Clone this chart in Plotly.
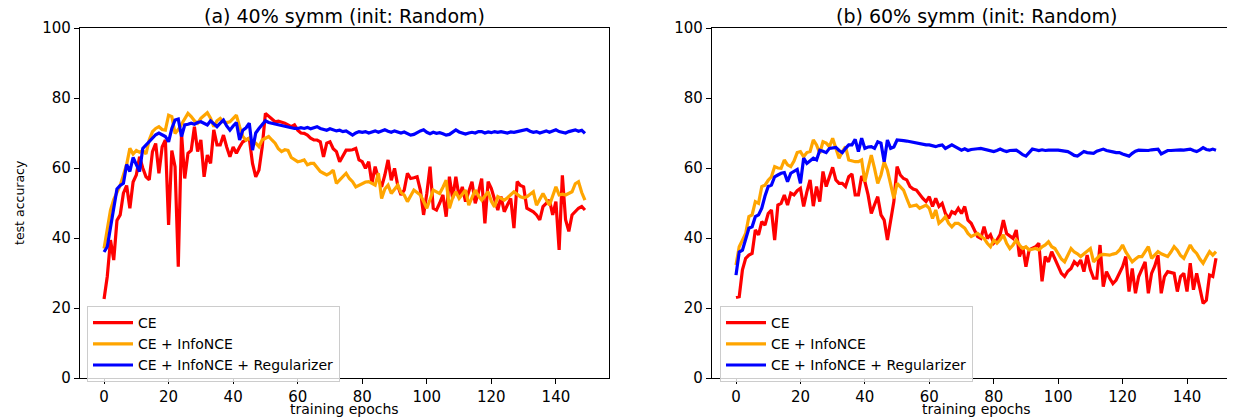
import plotly.graph_objects as go

epochs = list(range(150))

# (a) 40% symm
a_ce = [22.6, 29, 39.4, 33.7, 45, 46.6, 52.8, 55, 48.5, 56, 58, 63.2, 60, 57.5, 56.6, 64.7, 67, 58.5, 66, 68,
        43.7, 65, 60.4, 31.8, 70, 57, 64.2, 65, 71.8, 64.7, 68, 57.5, 63.7, 61.3, 70.9, 66.6, 66.6, 69.4, 66, 63.2,
        66, 64.2, 66, 67.5, 68, 68.5, 61.3, 57.5, 59.4, 66, 75.6, 74.7, 74, 73.2, 73.4, 73.2, 72.8, 72.3, 71.8, 72.3,
        70.8, 70, 69.9, 69.4, 68.5, 68, 68, 67.5, 63.2, 67.1, 67.5, 65.5, 64.7, 61.8, 63.5, 65.1, 65.1, 65.2, 65.6, 62.3,
        61.8, 59.9, 61.8, 55.6, 60.4, 57, 54.6, 58, 62.3, 56.5, 59.9, 55, 52.3, 53.7, 58.5, 57, 57.2, 57.5, 53.7, 46.6,
        52.7, 60.4, 48.5, 48, 50, 52.3, 46.1, 57.5, 51.3, 57.5, 51.8, 54.6, 50.4, 53, 56.1, 49.9, 53, 57, 44.2, 56.1,
        54.1, 51, 48, 51.8, 47.5, 49.5, 51.3, 42.8, 56.1, 55, 54.6, 48.5, 48, 47.5, 46.6, 45.2, 49, 50, 50.8, 46.6,
        50.4, 36.6, 57.9, 45.2, 41.9, 46.6, 47.5, 48.5, 49, 48]
a_info = [37, 43, 48, 51, 53, 55, 58, 61, 65.6, 64, 65, 64.5, 65, 64, 68, 70.4, 71.3, 71.8, 71, 70.8,
          75.1, 74.7, 69.9, 71, 72.5, 74, 75.6, 74.7, 73.5, 72.8, 74.2, 75, 75.8, 74.2, 71.8, 73.5, 74.2, 73.2, 73, 73.2,
          74, 75.1, 71.8, 69, 68, 68.5, 67.5, 67.1, 66.1, 68, 68.5, 69, 68, 67.1, 65.5, 64.7, 65.2, 65, 63, 62.3,
          61.8, 62, 62.3, 60.9, 61.3, 61.3, 60, 59, 58.5, 58, 58.5, 59.4, 55.6, 56.5, 57.5, 58.5, 57, 56.1, 54.6, 55,
          55.6, 56, 56.1, 55.5, 55.1, 58.5, 51.3, 54, 55.1, 52.7, 54, 55.1, 53, 52.3, 50.4, 52, 53.7, 53, 52.3, 50.5,
          48.5, 51, 53.7, 53.2, 52.7, 54.5, 56.5, 48.5, 51.5, 53.2, 51.3, 52.5, 53.7, 49.4, 51.5, 53.7, 52, 50.8, 52, 53.2,
          50.5, 48.9, 51.8, 51.3, 50.8, 51.5, 52.5, 53.2, 52.5, 51.8, 51.5, 51.8, 52.5, 53.2, 49.4, 51, 52.7, 51, 49.4, 52,
          54.6, 52.3, 52.5, 52.3, 52.8, 53.2, 55.5, 56.1, 53, 50.8]
a_reg = [36, 37.5, 43, 48, 54, 55, 55.6, 61, 59, 63, 61, 59, 65.6, 66.5, 67.5, 68.5, 69.5, 70, 69.5, 69,
         67.5, 71.3, 73.7, 74, 69, 72.3, 72.5, 72.8, 72.5, 73, 73.2, 72.8, 72.3, 73.5, 72.5, 71.8, 72.8, 73.7, 72, 70.8,
         72, 73, 68, 70.8, 71.5, 72.8, 65.1, 70, 71.3, 72.5, 73.5, 73, 72.8, 72.5, 72.3, 72, 71.8, 71.8, 71.5, 71.3,
         71.3, 71.5, 71.3, 71.6, 71.2, 71.5, 71.8, 71.3, 71, 70.8, 71.2, 71, 70.6, 70.8, 70.4, 70.6, 70, 69.4, 70, 70.4,
         70.2, 70.4, 70, 70.3, 70.6, 70.2, 70.6, 70.9, 70.5, 70.2, 70.6, 70.4, 70, 70.3, 69.8, 69.4, 69.6, 70.2, 70.6, 70.9,
         70.2, 69.8, 70.2, 69.9, 70.1, 69.8, 69.4, 69.6, 70.2, 70.9, 70.3, 69.9, 69.7, 70, 70.2, 70, 70.4, 70.4, 70, 70.3,
         70.1, 70.4, 70.2, 70.4, 70.1, 70, 70.3, 70.2, 70.4, 70.6, 70.8, 71, 70.5, 70.2, 70.4, 70, 70.3, 70.6, 70.2, 70.5,
         70.9, 70.4, 70.1, 70, 70.4, 70.6, 70.9, 70.5, 70.8, 69.9]

# (b) 60% symm
b_ce = [23, 23.2, 30.9, 34.2, 35.1, 35.6, 42.3, 40.9, 44.7, 43.7, 47, 48, 39.4, 49.4, 49.9, 52.3, 49.4, 52.8, 52.3, 53.5,
        54.2, 49, 53.2, 56.6, 49.1, 54.7, 50.4, 59, 54.7, 57.5, 60.2, 56.6, 55.6, 55.6, 54.7, 57.5, 58.3, 52.3, 52.3, 57.7,
        56.1, 52.3, 47, 49.5, 51.8, 46.6, 45.1, 39.4, 45.1, 50.4, 60.4, 58, 57, 56.6, 54.7, 54, 53.7, 52.3, 51.3, 50.4,
        51.8, 49, 51.3, 49, 49.9, 47, 45.6, 47.5, 47, 48.5, 47, 49, 45.1, 44.2, 42.3, 40.4, 39.9, 43.2, 39.9, 40.9,
        38.5, 39.4, 41, 45.1, 41.3, 40.5, 39.9, 42.3, 34.7, 37.5, 31.8, 36.6, 37, 37.5, 38.5, 27.6, 34.7, 33.2, 36.1, 34,
        32.3, 29.9, 29, 30.5, 31.3, 33.2, 32.3, 33.7, 30.4, 35.1, 31, 28.5, 28.5, 38, 26.1, 30.4, 28.5, 27, 28, 30,
        31.8, 34.7, 24.7, 31.3, 24.2, 29, 31, 33.2, 24.2, 29.9, 32, 35.1, 24.2, 29, 30.4, 30.2, 29.9, 24.7, 29, 29.9,
        24.7, 32.8, 25.2, 29.9, 25, 21.3, 22.2, 29.4, 29, 34.2]
b_info = [32.3, 37.5, 39.4, 41.3, 46.1, 46.6, 50.4, 49.9, 54.7, 55.1, 56.5, 57.5, 60.4, 60, 59.9, 62.3, 60.9, 60.4, 62, 64.4,
          64.7, 63.2, 64.4, 64.7, 68, 66.6, 64.2, 67.5, 67.1, 66.1, 68.5, 65.6, 62.8, 64.7, 66.1, 62.3, 62, 61.8, 61.8, 62.3,
          56.1, 60.4, 63.7, 59.9, 55.6, 58, 61.8, 59.4, 55.6, 51.3, 55.6, 54.5, 53.7, 51.3, 49, 49.2, 49.4, 48.5, 49, 49.4,
          48.5, 45.6, 48, 44.2, 45, 46.1, 44.2, 43.2, 44.2, 44.2, 43.5, 42.8, 41.3, 40.4, 40.9, 41.3, 40.5, 39.9, 38.5, 37.5,
          39.4, 38.5, 39.5, 40.9, 38.5, 37, 38, 39.4, 38, 37, 37.5, 36.6, 36.8, 37, 36.6, 37.5, 38, 38.9, 37.5, 37,
          35.5, 34, 33.2, 35, 37, 36, 35.5, 34.7, 35.5, 36.5, 37, 33.2, 34, 35.1, 35.3, 35.1, 35.1, 35.4, 35.6, 36.5,
          38, 36, 34.5, 33.2, 34, 34.7, 34.7, 36, 37.5, 34.2, 35, 36.1, 35.5, 35, 34.7, 36, 37.5, 36.5, 35, 34.2,
          36, 38, 36.5, 35.6, 34, 32.8, 34.5, 36.1, 35.1, 36.1]
b_reg = [29.4, 36, 36.5, 39.4, 42.8, 43.2, 46.1, 46.6, 48.5, 52, 54.7, 55.1, 57.5, 58, 58.5, 58.7, 56.1, 58.5, 59, 59.6,
         55.6, 62.8, 61.3, 62, 62.8, 62.3, 65.1, 64.8, 64.4, 65.6, 65.8, 65.9, 65, 64.4, 65.6, 66.6, 66.6, 68.2, 64.7, 68.5,
         65.6, 66, 66.1, 65.6, 67.5, 67.1, 61.8, 68, 65.6, 66, 68, 68, 67.8, 67.7, 67.5, 67.3, 67.1, 66.8, 66.6, 66.6,
         66.6, 66.4, 66.1, 66.4, 66.6, 65.6, 66.1, 66.6, 66.1, 65.6, 65.1, 65.5, 65, 65.3, 65.3, 65.5, 65.6, 65.4, 65.1, 64.9,
         64.7, 65, 65.4, 65, 64.7, 65, 65.1, 65.1, 64.5, 63.8, 63.4, 64.5, 65.4, 65.2, 65, 65.2, 65, 65.1, 65, 65.1,
         65.1, 64.9, 64.8, 64.7, 64.2, 63.6, 63.4, 64.2, 64.7, 64.4, 64.2, 64.2, 64.8, 65.2, 65.4, 65, 64.7, 64.6, 64.4, 64.4,
         64, 63.6, 63.4, 64.2, 64.8, 65.1, 65, 65, 65, 65.2, 65.4, 65.4, 64, 64.6, 65, 65, 65.1, 65, 65.2, 65.1,
         65.3, 65.4, 65, 64.7, 65.2, 65.8, 65.3, 65.1, 65.4, 65.1]

series_names = ["CE", "CE + InfoNCE", "CE + InfoNCE + Regularizer"]
series_colors = ["#ff0000", "#ffa500", "#0000ff"]
titles = ["(a) 40% symm (init: Random)", "(b) 60% symm (init: Random)"]
x_label = "training epochs"
y_label = "test accuracy"
x_ticks = [0, 20, 40, 60, 80, 100, 120, 140]
y_ticks = [0, 20, 40, 60, 80, 100]

FONT = "DejaVu Sans"
W, H = 1235, 417
OFF = 8  # page body margin offset in the browser

# plot-area geometry (figure pixels)
L1, R1 = 80 - OFF, 609 - OFF
L2, R2 = 712 - OFF, 1240 - OFF
TOP, BOT = 28 - OFF, 378 - OFF
ph = BOT - TOP

fig = go.Figure()
panels = [(a_ce, a_info, a_reg), (b_ce, b_info, b_reg)]
for p, data in enumerate(panels):
    xa = "x" if p == 0 else "x2"
    ya = "y" if p == 0 else "y2"
    lg = "legend" if p == 0 else "legend2"
    for name, color, vals in zip(series_names, series_colors, data):
        fig.add_trace(go.Scatter(x=epochs, y=vals, mode="lines", name=name,
                                 line=dict(color=color, width=3.2),
                                 xaxis=xa, yaxis=ya, legend=lg))

axis_common = dict(showgrid=False, zeroline=False, showline=True, linecolor="#000000",
                   linewidth=1.3, ticks="outside", ticklen=5, tickwidth=1.3, tickcolor="#000000",
                   tickfont=dict(family=FONT, size=15, color="#000000"))
legend_common = dict(xanchor="left", yanchor="top", y=(BOT - (306 - OFF)) / ph,
                     bgcolor="rgba(255,255,255,0.8)", bordercolor="#cccccc", borderwidth=1,
                     font=dict(family=FONT, size=14, color="#000000"), itemwidth=40, tracegroupgap=0)

# x-axis title centre just below the tick labels
xlab_y = -((409 - OFF) - BOT) / ph

annotations = []
for (l, r), t in zip([(L1, R1), (L2, R2)], titles):
    annotations.append(dict(text=t, xref="paper", yref="paper", x=(l + r) / 2 / W, y=1.0,
                            xanchor="center", yanchor="bottom", yshift=-1, showarrow=False,
                            font=dict(family=FONT, size=19, color="#000000")))
    annotations.append(dict(text=x_label, xref="paper", yref="paper", x=(l + r) / 2 / W, y=xlab_y,
                            xanchor="center", yanchor="middle", showarrow=False,
                            font=dict(family=FONT, size=14, color="#000000")))
annotations.append(dict(text=y_label, xref="paper", yref="paper", x=(19 - OFF) / W, y=0.5,
                        xanchor="center", yanchor="middle", textangle=-90, showarrow=False,
                        font=dict(family=FONT, size=12.5, color="#000000")))

fig.update_layout(
    width=W, height=H,
    margin=dict(l=0, r=0, t=TOP, b=H - BOT),
    plot_bgcolor="white", paper_bgcolor="white",
    xaxis=dict(domain=[L1 / W, R1 / W], range=[-7.45, 156.45], tickvals=x_ticks, mirror=True,
               anchor="y", **axis_common),
    yaxis=dict(range=[0, 100], tickvals=y_ticks, mirror=True, anchor="x", **axis_common),
    xaxis2=dict(domain=[L2 / W, R2 / W], range=[-7.45, 156.45], tickvals=x_ticks, mirror=True,
                anchor="y2", **axis_common),
    yaxis2=dict(range=[0, 100], tickvals=y_ticks, mirror=True, anchor="x2", **axis_common),
    legend=dict(x=(87 - OFF) / W, **legend_common),
    legend2=dict(x=(720 - OFF) / W, **legend_common),
    annotations=annotations,
)

fig.write_html("out.html")
